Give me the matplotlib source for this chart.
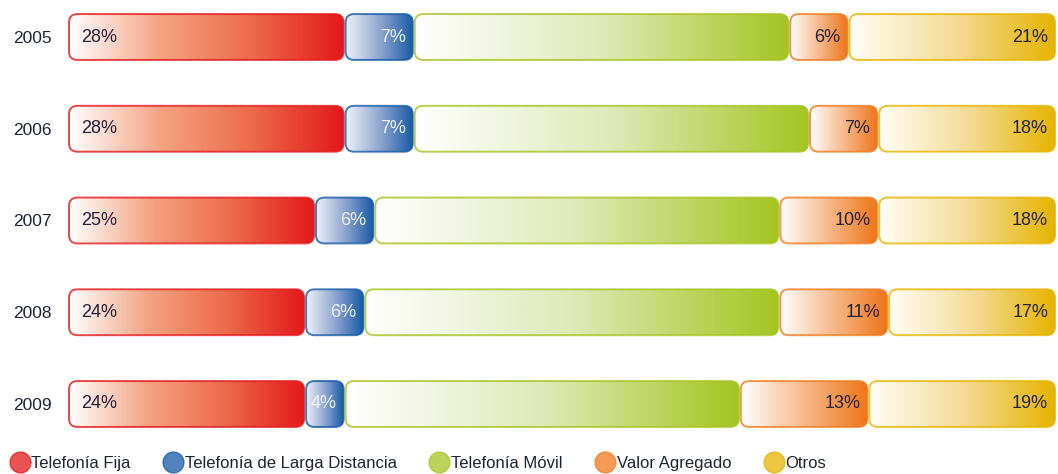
import numpy as np
import matplotlib
matplotlib.use("Agg")
import matplotlib.pyplot as plt
from matplotlib.patches import FancyBboxPatch
from matplotlib.colors import LinearSegmentedColormap
from matplotlib.lines import Line2D

plt.rcParams['font.family'] = ['Liberation Sans', 'DejaVu Sans']

# data (percent of total)
years = ['2005', '2006', '2007', '2008', '2009']
series = ['Telefonía Fija', 'Telefonía de Larga Distancia', 'Telefonía Móvil',
          'Valor Agregado', 'Otros']
fija = [28, 28, 25, 24, 24]
larga = [7, 7, 6, 6, 4]
movil = [38, 40, 41, 42, 40]
valor = [6, 7, 10, 11, 13]
otros = [21, 18, 18, 17, 19]

colors = ['#e3191b', '#1559a6', '#a4c520', '#ef7a1e', '#e6b400']
# gradient stops, left to right
ramps = [['#ffffff', '#f4a383', '#ec6a4a', '#e3191b'],
         ['#eef1f8', '#8ea6cf', '#1559a6'],
         ['#ffffff', '#dfe9b8', '#a4c520'],
         ['#ffffff', '#f7b98a', '#ee7518'],
         ['#fffdf6', '#f4dc98', '#e6b400']]
label_colors = ['#24213a', '#eef2fa', None, '#24213a', '#24213a']
text_dark = '#1c2333'

values = [fija, larga, movil, valor, otros]

fig = plt.figure(figsize=(10.58, 4.74), dpi=100)
ax = fig.add_axes([68 / 1058, 1 - 440.7 / 474, 988 / 1058, 440.4 / 474])
ax.set_xlim(0, 100)
ax.set_ylim(4.4, -0.4)

bar_h = 0.5
gap = 0.1
# ratio of y-data per pixel to x-data per pixel, to keep corners round
asp = (1 / 91.75) / (1 / 9.88)

for i, year in enumerate(years):
    left = 0
    for j, vals in enumerate(values):
        v = vals[i]
        x0 = left + gap
        x1 = left + v - gap
        y0 = i - bar_h / 2
        cmap = LinearSegmentedColormap.from_list('g%d' % j, ramps[j])
        grad = np.linspace(0, 1, 256).reshape(1, -1)
        im = ax.imshow(grad, cmap=cmap, extent=(x0, x1, y0 + bar_h, y0),
                       aspect='auto', interpolation='bilinear', zorder=1)
        patch = FancyBboxPatch((x0, y0), x1 - x0, bar_h,
                               boxstyle='round,pad=0,rounding_size=0.85',
                               mutation_aspect=asp, facecolor='none',
                               edgecolor=colors[j], linewidth=1.4, alpha=0.8,
                               zorder=2)
        ax.add_patch(patch)
        im.set_clip_path(patch)
        if label_colors[j] is not None:
            if j == 0:
                ax.text(x0 + 1.2, i, '%d%%' % v, ha='left', va='center',
                        fontsize=13, color=label_colors[j], zorder=3)
            else:
                ax.text(x1 - 0.7, i, '%d%%' % v, ha='right', va='center',
                        fontsize=13, color=label_colors[j], zorder=3)
        left += v

ax.set_yticks(range(len(years)))
ax.set_yticklabels(years, fontsize=12.5, color=text_dark)
ax.tick_params(axis='y', length=0, pad=12)
ax.set_xticks([])
for s in ax.spines.values():
    s.set_visible(False)

handles = [Line2D([], [], marker='o', linestyle='none', markersize=15,
                  markerfacecolor=c, markeredgecolor=c, alpha=0.75)
           for c in colors]
fig.legend(handles, series, loc='lower left', bbox_to_anchor=(-0.005, -0.025),
           ncol=5, frameon=False, fontsize=12, handletextpad=0.1,
           columnspacing=1.95, labelcolor=text_dark, handlelength=1.2)

fig.savefig('out.png', dpi=100)
